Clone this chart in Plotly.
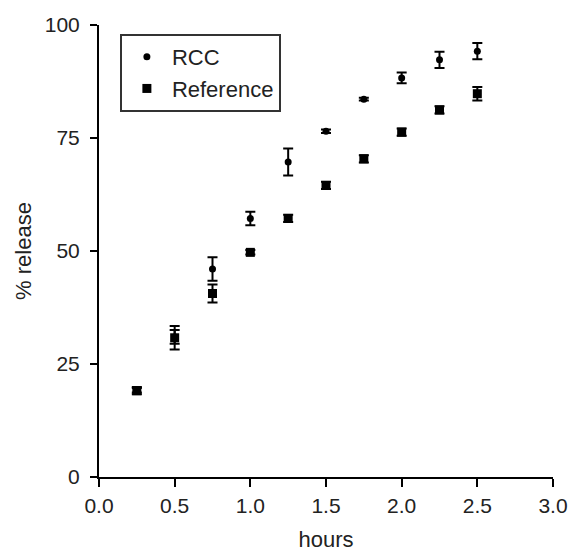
import plotly.graph_objects as go

hours = [0.25, 0.5, 0.75, 1.0, 1.25, 1.5, 1.75, 2.0, 2.25, 2.5]
rcc = [19.2, 31.0, 46.0, 57.2, 69.7, 76.5, 83.6, 88.3, 92.3, 94.2]
rcc_err = [0.5, 1.5, 2.6, 1.5, 3.0, 0.4, 0.3, 1.2, 1.8, 1.8]
ref = [19.1, 30.8, 40.6, 49.7, 57.2, 64.5, 70.4, 76.3, 81.2, 84.8]
ref_err = [0.8, 2.6, 2.0, 0.5, 0.8, 0.8, 0.8, 0.8, 0.8, 1.5]

x_ticks = [0.0, 0.5, 1.0, 1.5, 2.0, 2.5, 3.0]
x_tick_labels = ["0.0", "0.5", "1.0", "1.5", "2.0", "2.5", "3.0"]
y_ticks = [0, 25, 50, 75, 100]

FAM = "Liberation Sans, Arial, sans-serif"

fig = go.Figure()
fig.add_trace(go.Scatter(
    x=hours, y=rcc, mode="markers", name="RCC",
    marker=dict(symbol="circle", size=7, color="black"),
    error_y=dict(type="data", array=rcc_err, color="black", thickness=2, width=5),
))
fig.add_trace(go.Scatter(
    x=hours, y=ref, mode="markers", name="Reference",
    marker=dict(symbol="square", size=9, color="black"),
    error_y=dict(type="data", array=ref_err, color="black", thickness=2, width=5),
))

fig.update_layout(
    width=570, height=553,
    margin=dict(l=99, r=17, t=25, b=76, autoexpand=False),
    paper_bgcolor="white", plot_bgcolor="white",
    font=dict(family=FAM, size=21, color="#222"),
    showlegend=True,
    legend=dict(
        x=0.046, y=0.98, xanchor="left", yanchor="top",
        bordercolor="#333", borderwidth=2, bgcolor="white",
        font=dict(family=FAM, size=22, color="#222"),
        tracegroupgap=0, itemwidth=40, entrywidth=185,
    ),
)
fig.update_xaxes(
    range=[0, 3.0], tickvals=x_ticks, ticktext=x_tick_labels,
    showline=True, linecolor="black", linewidth=2,
    ticks="outside", ticklen=8, tickwidth=2, tickcolor="black",
    ticklabelstandoff=1,
    showgrid=False, zeroline=False, automargin=False,
    title=dict(text="hours", standoff=15, font=dict(family=FAM, size=22, color="#222")),
)
fig.update_yaxes(
    range=[0, 100], tickvals=y_ticks,
    showline=True, linecolor="black", linewidth=2,
    ticks="outside", ticklen=7, tickwidth=2, tickcolor="black",
    ticklabelstandoff=6,
    showgrid=False, zeroline=False, automargin=False,
    title=dict(text="% release", standoff=7, font=dict(family=FAM, size=22, color="#222")),
)
fig.write_html("out.html")
